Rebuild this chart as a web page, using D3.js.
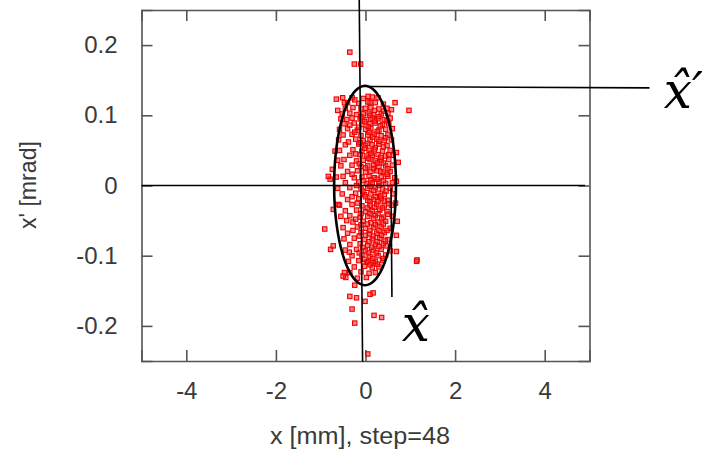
<!DOCTYPE html>
<html><head><meta charset="utf-8">
<script src="https://cdn.jsdelivr.net/npm/d3@7"></script>
<style>
html,body{margin:0;padding:0;background:#fff;}
svg{display:block;}
</style></head>
<body>
<svg id="chart" width="702" height="449"></svg>
<script>
// ---- data ----
const xDomain = [-5, 5];            // x [mm]
const yDomain = [-0.25, 0.25];      // x' [mrad]
const xTicks = [-4, -2, 0, 2, 4];
const xTickLabels = ["-4", "-2", "0", "2", "4"];
const yTicks = [-0.2, -0.1, 0, 0.1, 0.2];
const yTickLabels = ["-0.2", "-0.1", "0", "0.1", "0.2"];
const xTitle = "x [mm], step=48";
const yTitle = "x' [mrad]";

// particles (x mm, x' mrad)
const particles = [
 [-0.35,0.190],[-0.25,0.173],[-0.11,0.173],
 [-0.51,0.125],[-0.47,0.118],[-0.62,0.107],[-0.24,0.122],[0.06,0.127],[0.10,0.118],[0.28,0.125],[0.66,0.118],[0.58,0.108],[0.97,0.107],
 [-0.79,0.009],[-0.74,0.023],[-0.83,0.013],[-0.68,0.049],[-0.65,0.123],
 [0.73,0.033],[0.69,0.047],[0.69,0.006],
 [-0.91,-0.062],[-0.78,-0.091],[-0.72,-0.086],[-0.72,-0.034],[-0.61,-0.027],
 [0.71,-0.051],[0.69,-0.094],[1.15,-0.106],[0.69,-0.071],[0.67,-0.025],
 [-0.47,-0.124],[-0.44,-0.131],[-0.24,-0.142],[-0.35,-0.158],[-0.20,-0.160],[-0.01,-0.165],[0.10,-0.155],[0.17,-0.153],
 [-0.30,-0.176],[-0.24,-0.196],[0.19,-0.185],[0.36,-0.188],[0.05,-0.240],[1.14,-0.108],[0.02,-0.109],[0.17,-0.110],[-0.50,-0.129],
 [-0.30,0.125],[-0.05,0.124],[0.15,0.126],
 [-0.40,0.118],[-0.15,0.117],[0.05,0.119],[0.22,0.118],[0.40,0.116],
 [-0.45,0.110],[-0.28,0.111],[-0.10,0.109],[0.00,0.110],[0.12,0.111],[0.30,0.109],[0.48,0.110],
 [-0.52,0.102],[-0.35,0.103],[-0.20,0.101],[-0.05,0.102],[0.08,0.103],[0.18,0.101],[0.35,0.102],[0.50,0.103],
 [-0.55,0.095],[-0.42,0.094],[-0.30,0.096],[-0.12,0.095],[0.02,0.094],[0.15,0.096],[0.28,0.095],[0.42,0.094],[0.55,0.096],
 [-0.48,0.088],[-0.25,0.089],[-0.08,0.087],[0.10,0.088],[0.22,0.089],[0.38,0.087],[0.52,0.088],
 [-0.58,0.080],[-0.40,0.081],[-0.18,0.079],[0.00,0.080],[0.12,0.081],[0.30,0.079],[0.45,0.080],[0.60,0.081],
 [-0.50,0.072],[-0.30,0.073],[-0.10,0.071],[0.05,0.072],[0.20,0.073],[0.35,0.071],[0.50,0.072],
 [-0.60,0.065],[-0.22,0.066],[-0.05,0.064],[0.10,0.065],[0.25,0.066],[0.42,0.064],[0.58,0.065],
 [-0.45,0.058],[-0.15,0.059],[0.00,0.057],[0.15,0.058],[0.30,0.059],[0.48,0.057],
 [-0.58,0.050],[-0.28,0.051],[-0.08,0.049],[0.08,0.050],[0.20,0.051],[0.38,0.049],[0.55,0.050],
 [-0.35,0.043],[-0.12,0.044],[0.02,0.042],[0.15,0.043],[0.28,0.044],[0.45,0.042],[0.62,0.043],
 [-0.62,0.036],[-0.48,0.037],[-0.20,0.035],[-0.05,0.036],[0.10,0.037],[0.22,0.035],[0.35,0.036],[0.52,0.037],
 [-0.55,0.028],[-0.30,0.029],[-0.10,0.027],[0.05,0.028],[0.18,0.029],[0.30,0.027],[0.45,0.028],[0.60,0.029],
 [-0.40,0.020],[-0.18,0.021],[0.00,0.019],[0.12,0.020],[0.25,0.021],[0.40,0.019],[0.55,0.020],
 [-0.65,0.012],[-0.50,0.013],[-0.25,0.011],[-0.08,0.012],[0.08,0.013],[0.20,0.011],[0.35,0.012],[0.50,0.013],[0.65,0.011],
 [-0.45,0.004],[-0.15,0.005],[0.02,0.003],[0.15,0.004],[0.30,0.005],[0.45,0.003],[0.60,0.004],
 [-0.62,-0.004],[-0.35,-0.003],[-0.10,-0.005],[0.05,-0.004],[0.22,-0.003],[0.38,-0.005],[0.55,-0.004],
 [-0.52,-0.012],[-0.22,-0.011],[-0.02,-0.013],[0.12,-0.012],[0.28,-0.011],[0.42,-0.013],[0.62,-0.012],
 [-0.40,-0.020],[-0.15,-0.019],[0.05,-0.021],[0.18,-0.020],[0.35,-0.019],[0.50,-0.021],
 [-0.58,-0.028],[-0.30,-0.027],[-0.08,-0.029],[0.10,-0.028],[0.25,-0.027],[0.42,-0.029],[0.58,-0.028],
 [-0.45,-0.036],[-0.20,-0.035],[0.00,-0.037],[0.15,-0.036],[0.32,-0.035],[0.48,-0.037],
 [-0.55,-0.044],[-0.35,-0.043],[-0.12,-0.045],[0.05,-0.044],[0.22,-0.043],[0.40,-0.045],[0.60,-0.044],
 [-0.28,-0.052],[-0.05,-0.051],[0.12,-0.053],[0.28,-0.052],[0.45,-0.051],
 [-0.50,-0.060],[-0.18,-0.059],[0.00,-0.061],[0.18,-0.060],[0.35,-0.059],[0.55,-0.061],
 [-0.40,-0.068],[-0.10,-0.067],[0.08,-0.069],[0.25,-0.068],[0.42,-0.067],
 [-0.48,-0.076],[-0.25,-0.075],[-0.02,-0.077],[0.15,-0.076],[0.32,-0.075],[0.50,-0.077],
 [-0.35,-0.084],[-0.12,-0.083],[0.05,-0.085],[0.22,-0.084],[0.40,-0.083],
 [-0.45,-0.092],[-0.20,-0.091],[0.00,-0.093],[0.18,-0.092],[0.35,-0.091],[0.55,-0.093],
 [-0.30,-0.100],[-0.08,-0.099],[0.10,-0.101],[0.28,-0.100],[0.45,-0.099],
 [-0.38,-0.108],[-0.15,-0.107],[0.05,-0.109],[0.22,-0.108],[0.38,-0.107],
 [-0.25,-0.116],[-0.02,-0.115],[0.15,-0.117],[0.30,-0.116],
 [-0.35,-0.124],[-0.10,-0.123],[0.08,-0.125],[0.22,-0.124],
 [-0.18,-0.132],[0.02,-0.131],
 // dense central core
 [-0.02,0.091],[0.06,0.084],[0.20,0.092],[0.33,0.085],[-0.15,0.083],[0.26,0.077],[0.08,0.076],[-0.24,0.076],
 [0.16,0.069],[0.30,0.063],[-0.12,0.061],[0.04,0.060],[0.40,0.055],[0.22,0.054],[-0.02,0.053],[0.12,0.046],
 [0.34,0.040],[-0.22,0.045],[0.06,0.039],[0.26,0.032],[0.40,0.032],[-0.14,0.031],[0.00,0.025],[0.18,0.024],
 [0.34,0.020],[0.48,0.016],[-0.30,0.016],[0.12,0.008],[0.26,0.009],[-0.04,0.007],[0.40,0.007],[-0.20,0.000],
 [0.10,-0.001],[0.30,0.000],[0.46,-0.008],[0.18,-0.007],[-0.06,-0.008],[0.34,-0.015],[0.00,-0.016],[0.22,-0.016],
 [-0.30,-0.016],[0.10,-0.023],[0.28,-0.023],[0.42,-0.022],[-0.18,-0.025],[0.04,-0.032],[0.20,-0.031],[0.38,-0.032],
 [-0.10,-0.040],[0.10,-0.040],[0.28,-0.040],[0.50,-0.041],[-0.22,-0.048],[0.18,-0.047],[0.36,-0.047],[0.04,-0.055],
 [0.22,-0.056],[0.40,-0.055],[-0.10,-0.056],[0.10,-0.064],[0.30,-0.064],[-0.28,-0.064],[0.00,-0.071],[0.18,-0.072],
 [0.36,-0.071],[-0.14,-0.072],[0.08,-0.080],[0.26,-0.080],[0.44,-0.079],[-0.06,-0.088],[0.14,-0.088],[0.30,-0.087],
 [0.06,-0.096],[0.24,-0.096],[-0.14,-0.096],[0.40,-0.104],[0.16,-0.104],[-0.02,-0.105],[0.10,-0.113],[0.26,-0.112],
 [0.30,0.098],[0.10,0.100],[-0.10,0.098],[0.40,0.106],[0.20,0.107],[0.48,0.092],[0.45,0.068],[0.52,0.044],
 [0.52,-0.026],[0.48,-0.064],[0.46,-0.086],[0.50,0.024],[-0.35,0.086],[-0.38,0.062],[-0.42,-0.050],[-0.36,-0.095]
];

// rms ellipse: centre and half-axes (mm, mrad)
const ellipseCentre = [-0.01, 0.0];
const ellipseHalfAxes = [0.69, 0.142];

// overlay lines (data coordinates)
const overlayLines = [
  [[-0.14, 0.265], [-0.065, -0.251]],   // near-vertical axis line
  [[-5.0, 0.0], [4.9, 0.0]],            // horizontal axis line
  [[0.03, 0.141], [6.34, 0.139]],       // x-hat-prime leader
  [[0.57, -0.003], [0.59, -0.159]]      // x-hat leader
];
const annotations = [
  {text: "x\u0302",       x: 0.81, y: -0.221},
  {text: "x\u0302\u2032", x: 6.66, y: 0.111}
];

// ---- drawing ----
const svg = d3.select("#chart");
const x = d3.scaleLinear().domain(xDomain).range([141.5, 589.5]);
const y = d3.scaleLinear().domain(yDomain).range([361, 10]);
const frameColor = "#555";
const textColor = "#3a3a3a";
const fontFam = "'Liberation Sans', Arial, sans-serif";

// axes
const gB = svg.append("g").attr("transform", `translate(0,${y(yDomain[0])})`)
  .call(d3.axisBottom(x).tickValues(xTicks).tickSize(-11).tickPadding(21)
        .tickFormat((d,i) => xTickLabels[i]));
const gT = svg.append("g").attr("transform", `translate(0,${y(yDomain[1])})`)
  .call(d3.axisTop(x).tickValues(xTicks).tickSize(-11).tickFormat(""));
const gL = svg.append("g").attr("transform", `translate(${x(xDomain[0])},0)`)
  .call(d3.axisLeft(y).tickValues(yTicks).tickSize(-11).tickPadding(24)
        .tickFormat((d,i) => yTickLabels[i]));
const gR = svg.append("g").attr("transform", `translate(${x(xDomain[1])},0)`)
  .call(d3.axisRight(y).tickValues(yTicks).tickSize(-11).tickFormat(""));
[gB,gT,gL,gR].forEach(g => {
  g.select(".domain").attr("stroke", frameColor).attr("stroke-width", 1.6);
  g.selectAll(".tick line").attr("stroke", frameColor).attr("stroke-width", 1.6);
  g.selectAll(".tick text").attr("fill", textColor)
    .style("font-family", fontFam).style("font-size", "24px");
});

// titles
svg.append("text").attr("x", 360).attr("y", 444).attr("text-anchor", "middle")
  .attr("fill", textColor).style("font-family", fontFam).style("font-size", "23px")
  .attr("textLength", 180).attr("lengthAdjust", "spacingAndGlyphs")
  .text(xTitle);
svg.append("text").attr("transform", "translate(36,185) rotate(-90)")
  .attr("text-anchor", "middle").attr("fill", textColor)
  .style("font-family", fontFam).style("font-size", "24px")
  .attr("textLength", 88).attr("lengthAdjust", "spacingAndGlyphs").text(yTitle);

// particles
svg.append("g").selectAll("rect").data(particles).join("rect")
  .attr("x", d => x(d[0]) - 2.2).attr("y", d => y(d[1]) - 2.2)
  .attr("width", 4.4).attr("height", 4.4)
  .attr("fill", "rgba(255,40,40,0.55)").attr("stroke", "#ee0000").attr("stroke-width", 1.1);

// ellipse
const angles = d3.range(0, 361, 3).map(a => a * Math.PI / 180);
const ell = d3.line()
  .x(t => x(ellipseCentre[0] + ellipseHalfAxes[0] * Math.cos(t)))
  .y(t => y(ellipseCentre[1] + ellipseHalfAxes[1] * Math.sin(t)))
  .curve(d3.curveLinearClosed);
svg.append("path").attr("d", ell(angles)).attr("fill", "none")
  .attr("stroke", "#000").attr("stroke-width", 2.6);

// overlay lines
const ln = d3.line().x(d => x(d[0])).y(d => y(d[1]));
overlayLines.forEach(l => svg.append("path").attr("d", ln(l))
  .attr("stroke", "#000").attr("stroke-width", 1.6).attr("fill", "none"));

// annotations
annotations.forEach(a => svg.append("text").attr("x", x(a.x)).attr("y", y(a.y))
  .style("font-family", "'DejaVu Serif', serif")
  .style("font-style", "italic").style("font-size", "50px")
  .attr("fill", "#000").text(a.text));
</script>
</body></html>
